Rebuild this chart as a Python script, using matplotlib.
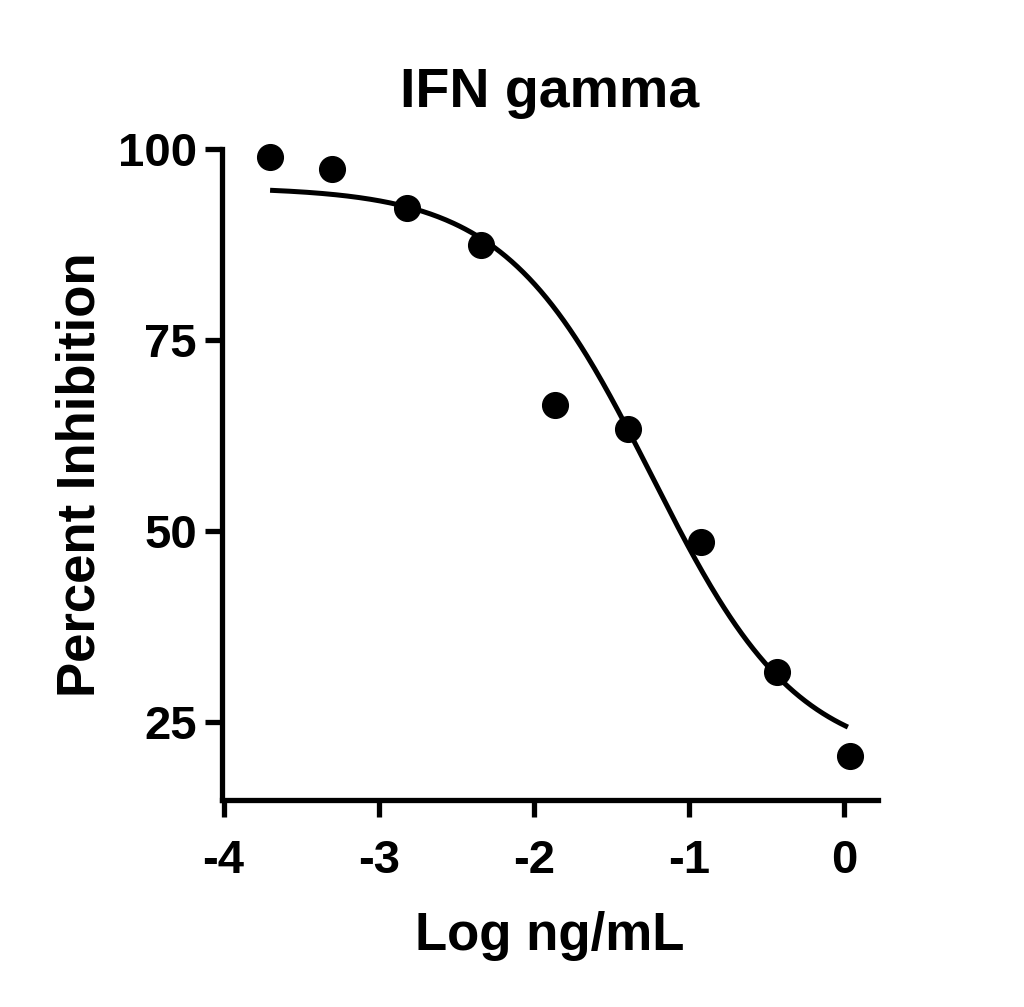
import numpy as np
from matplotlib import pyplot as plt

# measured points (log dose vs percent inhibition)
log_conc = [-3.70, -3.30, -2.82, -2.34, -1.86, -1.39, -0.92, -0.43, 0.04]
inhibition = [98.9, 97.4, 92.3, 87.4, 66.5, 63.3, 48.6, 31.5, 20.5]

# 4PL fit parameters
top = 95.0
bottom = 19.5
log_ic50 = -1.24
hill = 0.92
fit_range = [-3.70, 0.026]

plt.rcParams['font.family'] = ['Liberation Sans', 'DejaVu Sans']
plt.rcParams['font.weight'] = 'bold'

fig = plt.figure(figsize=(10.24, 10.07), dpi=100)
ax = fig.add_axes([0.2168, 0.2056, 0.6406, 0.6465])

xfit = np.linspace(fit_range[0], fit_range[1], 300)
yfit = bottom + (top - bottom) / (1 + 10 ** ((xfit - log_ic50) * hill))
ax.plot(xfit, yfit, color='black', lw=3.6, solid_capstyle='butt', zorder=2)
ax.plot(log_conc, inhibition, 'o', color='black', ms=18.5, zorder=3, clip_on=False)

ax.set_xlim(-4.01, 0.22)
ax.set_ylim(14.8, 100)
ax.set_xticks([-4, -3, -2, -1, 0])
ax.set_xticklabels(['-4', '-3', '-2', '-1', '0'])
ax.set_yticks([25, 50, 75, 100])

for side in ['top', 'right']:
    ax.spines[side].set_visible(False)
for side in ['left', 'bottom']:
    ax.spines[side].set_linewidth(3.8)
    ax.spines[side].set_capstyle('projecting')

ax.tick_params(axis='both', width=3.8, length=12, labelsize=34)
ax.tick_params(axis='x', pad=16)
ax.tick_params(axis='y', pad=6)

ax.set_xlabel('Log ng/mL', fontsize=38, fontweight='bold', labelpad=20)
ax.set_ylabel('Percent Inhibition', fontsize=38, fontweight='bold', labelpad=9)
ax.set_title('IFN gamma', fontsize=40, fontweight='bold', pad=30)

plt.savefig('out.png', dpi=100)
